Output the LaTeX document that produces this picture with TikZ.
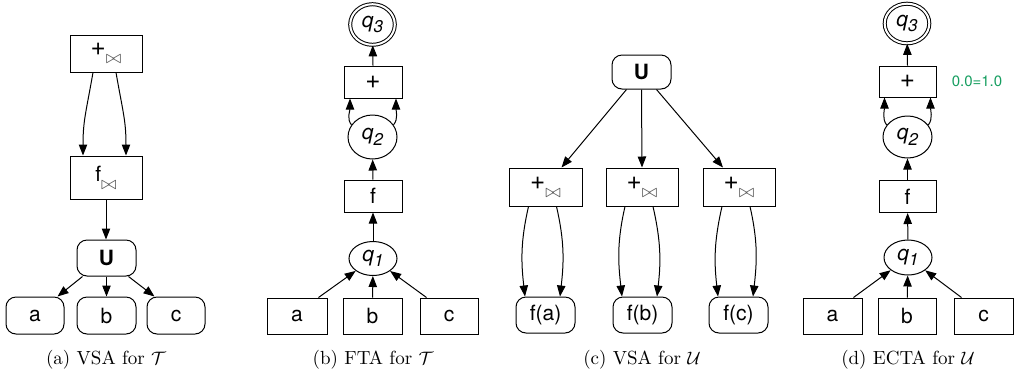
\documentclass[tikz,border=0pt]{standalone}
\usepackage{fontspec}
\newfontfamily\hv{TeX Gyre Heros}
\usetikzlibrary{arrows.meta,shapes.geometric}
\definecolor{lblgreen}{RGB}{22,158,96}
\newcommand{\bt}{\raisebox{-0.7ex}{\fontsize{9.5}{10}\selectfont\color{black!65}$\bowtie$}}
\newcommand{\pl}{{\fontsize{13}{13}\selectfont +}}
\newcommand{\qq}[1]{{\itshape q\raisebox{-0.5ex}{\fontsize{8.5}{9}\selectfont #1}}}
\tikzset{
  lw/.style={line width=0.5pt},
  box/.style={draw, lw, rectangle, inner sep=0pt, font=\hv\fontsize{10.5}{12}\selectfont},
  rbox/.style={box, rounded corners=5pt},
  st/.style={draw, lw, ellipse, inner sep=0pt, font=\hv\fontsize{10.5}{12}\selectfont},
  acc/.style={st, double, double distance=1pt},
  arr/.style={lw, -{Triangle[length=5.5pt,width=4.2pt]}},
  captxt/.style={font=\fontsize{9.5}{11}\selectfont},
}
\begin{document}
\begin{tikzpicture}[x=0.5pt,y=-0.5pt]
\useasboundingbox (0,0) rectangle (1019,382);
% ---------- (a)
\node[box, minimum width=36pt, minimum height=18.5pt] (pa) at (106,53.5) {\pl\bt};
\node[box, minimum width=36pt, minimum height=21.5pt] (fa) at (106,177.5) {f\bt};
\node[rbox, minimum width=29.5pt, minimum height=18pt] (Ua) at (106.5,258) {\bfseries U};
\node[rbox, minimum width=29pt, minimum height=18.5pt] (aa) at (35,315.5) {a};
\node[rbox, minimum width=29.5pt, minimum height=18.5pt] (ba) at (106.5,315.5) {b};
\node[rbox, minimum width=29pt, minimum height=18.5pt] (ca) at (176,315.5) {c};
\node[captxt] (capa) at (106,360) {(a) VSA for $\mathcal{T}$};
\draw[arr] ([xshift=-6.5pt]pa.south) .. controls +(-7,40) and +(0,-35) .. ([xshift=-11.5pt]fa.north);
\draw[arr] ([xshift=5pt]pa.south) .. controls +(7,40) and +(0,-35) .. ([xshift=10pt]fa.north);
\draw[arr] (fa.south) -- (Ua.north -| fa.south);
\draw[arr] ([xshift=3pt]Ua.south west) -- ([xshift=-3.5pt]aa.north east);
\draw[arr] (Ua.south) -- (ba.north);
\draw[arr] ([xshift=-4pt]Ua.south east) -- ([xshift=4pt]ca.north west);
% ---------- (b)
\node[acc, minimum width=22.3pt, minimum height=20.3pt] (q3b) at (372.5,24.5) {\qq{3}};
\node[box, minimum width=29pt, minimum height=16pt] (pb) at (373,82) {\pl};
\node[st, minimum width=24.5pt, minimum height=22pt] (q2b) at (372.5,137) {\qq{2}};
\node[box, minimum width=29pt, minimum height=16pt] (fb) at (373,196) {f};
\node[st, minimum width=24pt, minimum height=17pt] (q1b) at (373,258.5) {\qq{1}};
\node[box, minimum width=30pt, minimum height=18pt] (ab) at (297,316) {a};
\node[box, minimum width=29.5pt, minimum height=18pt] (bb) at (372.5,316) {b};
\node[box, minimum width=29pt, minimum height=18pt] (cb) at (449,316) {c};
\node[captxt] (capb) at (373,360) {(b) FTA for $\mathcal{T}$};
\draw[arr] (pb.north) -- (q3b);
\draw[arr] (q2b.150) .. controls +(-5,-6) and +(0,12) .. ([xshift=-11.5pt]pb.south);
\draw[arr] (q2b.30) .. controls +(5,-6) and +(0,12) .. ([xshift=11.5pt]pb.south);
\draw[arr] (fb) -- (q2b);
\draw[arr] (q1b) -- (fb);
\draw[arr] ([xshift=-4.5pt]ab.north east) -- (q1b);
\draw[arr] (bb) -- (q1b);
\draw[arr] ([xshift=3.5pt]cb.north west) -- (q1b);
% ---------- (c)
\node[rbox, minimum width=29.5pt, minimum height=17pt] (Uc) at (641.5,72) {\bfseries U};
\node[box, minimum width=36.5pt, minimum height=19pt] (p1c) at (545.5,187) {\pl\bt};
\node[box, minimum width=36pt, minimum height=19pt] (p2c) at (642,187) {\pl\bt};
\node[box, minimum width=36pt, minimum height=19pt] (p3c) at (739,187) {\pl\bt};
\node[rbox, minimum width=29.5pt, minimum height=18pt] (f1c) at (545.5,315) {f(a)};
\node[rbox, minimum width=29.5pt, minimum height=18pt] (f2c) at (642.5,315) {f(b)};
\node[rbox, minimum width=29.5pt, minimum height=18pt] (f3c) at (738.5,315) {f(c)};
\node[captxt] (capc) at (642,360) {(c) VSA for $\mathcal{U}$};
\draw[arr] ([xshift=7.5pt]Uc.south west) -- ([xshift=8pt]p1c.north);
\draw[arr] (Uc.south) -- (p2c.north);
\draw[arr] ([xshift=-7.5pt]Uc.south east) -- ([xshift=-8pt]p3c.north);
\foreach \i in {1,2,3}{
  \draw[arr] ([xshift=-8.5pt]p\i c.south) .. controls +(-8,35) and +(-4,-35) .. ([xshift=-10.25pt]f\i c.north);
  \draw[arr] ([xshift=5.5pt]p\i c.south) .. controls +(8,35) and +(4,-35) .. ([xshift=7.25pt]f\i c.north);
}
% ---------- (d)
\node[acc, minimum width=22.3pt, minimum height=19.8pt] (q3d) at (907,23.5) {\qq{3}};
\node[box, minimum width=28.5pt, minimum height=15.5pt] (pd) at (907.5,81.5) {\pl};
\node[font=\hv\fontsize{7.5}{8}\selectfont, text=lblgreen] (lbl) at (977,81) {0.0=1.0};
\node[st, minimum width=24.5pt, minimum height=21pt] (q2d) at (907.5,137) {\qq{2}};
\node[box, minimum width=28.5pt, minimum height=16pt] (fd) at (907.5,196.5) {f};
\node[st, minimum width=24pt, minimum height=17.5pt] (q1d) at (908,257.5) {\qq{1}};
\node[box, minimum width=29.5pt, minimum height=18pt] (ad) at (832.5,316) {a};
\node[box, minimum width=29pt, minimum height=18pt] (bd) at (907,316) {b};
\node[box, minimum width=29.5pt, minimum height=18pt] (cd) at (983.5,316) {c};
\node[captxt] (capd) at (908,360) {(d) ECTA for $\mathcal{U}$};
\draw[arr] (pd.north) -- (q3d);
\draw[arr] (q2d.150) .. controls +(-5,-6) and +(0,12) .. ([xshift=-11.5pt]pd.south);
\draw[arr] (q2d.30) .. controls +(5,-6) and +(0,12) .. ([xshift=11.5pt]pd.south);
\draw[arr] (fd) -- (q2d);
\draw[arr] (q1d) -- (fd);
\draw[arr] ([xshift=-4.5pt]ad.north east) -- (q1d);
\draw[arr] (bd) -- (q1d);
\draw[arr] ([xshift=4pt]cd.north west) -- (q1d);
\end{tikzpicture}
\end{document}
